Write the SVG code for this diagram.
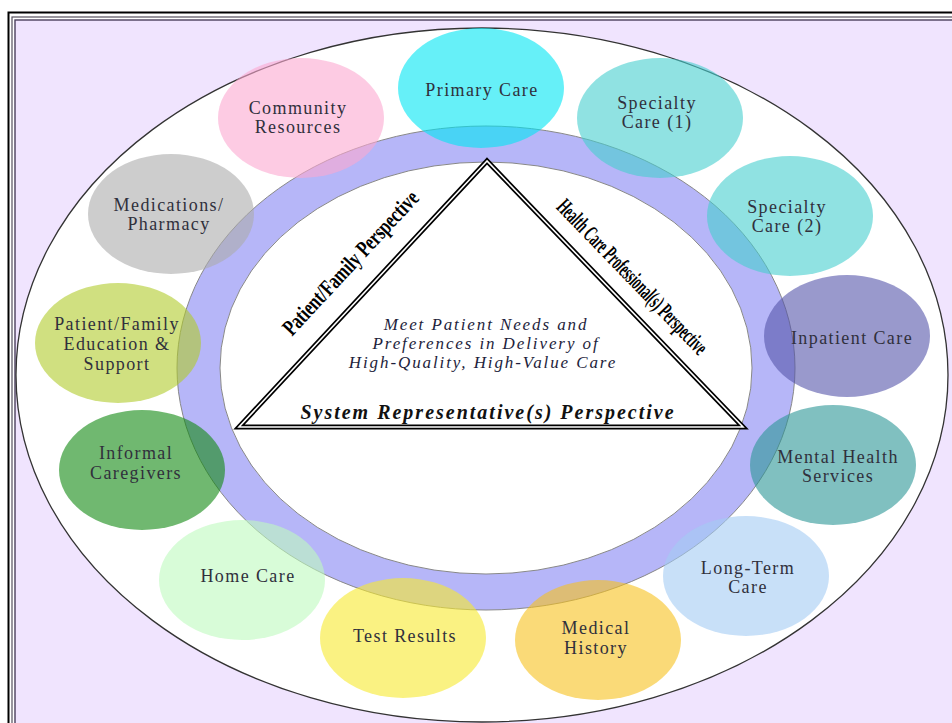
<svg xmlns="http://www.w3.org/2000/svg" width="952" height="723" viewBox="0 0 952 723">
  <style>
    .node-shape { fill-opacity: 0.6; }
    .label { font-family: "Liberation Serif", "Times New Roman", serif; font-size: 18px; letter-spacing: 1.4px; fill: #30303c; text-anchor: middle; }
    .center-text { font-family: "Liberation Serif", "Times New Roman", serif; font-style: italic; font-size: 17px; letter-spacing: 1.9px; fill: #1e1e3c; text-anchor: middle; }
    .base-text { font-family: "Liberation Serif", "Times New Roman", serif; font-style: italic; font-weight: bold; font-size: 20px; letter-spacing: 2px; fill: #111; text-anchor: middle; }
    .edge-text { font-family: "Liberation Serif", "Times New Roman", serif; font-weight: bold; font-size: 23px; fill: #000; text-anchor: middle; }
  </style>

  <!-- page frame with double border -->
  <g id="frame">
    <rect x="0" y="0" width="952" height="723" fill="#ffffff"/>
    <rect x="8.5" y="12.5" width="1000" height="800" fill="none" stroke="#000" stroke-width="2"/>
    <rect x="12" y="17" width="1000" height="800" fill="none" stroke="#55505e" stroke-width="1.2"/>
    <rect x="15" y="20" width="1000" height="800" fill="#f0e4fe" stroke="#4a3f5c" stroke-width="1.4"/>
  </g>

  <!-- outer white ellipse -->
  <g id="outer-ellipse">
    <ellipse cx="482" cy="375" rx="466" ry="347" fill="#ffffff" stroke="#333" stroke-width="1.3"/>
  </g>

  <!-- lavender ring -->
  <g id="ring">
    <ellipse cx="486" cy="368" rx="309" ry="242" fill="#b6b6f8" stroke="#888" stroke-width="1"/>
    <ellipse cx="486" cy="368" rx="266" ry="206" fill="#ffffff" stroke="#888" stroke-width="1"/>
  </g>

  <!-- central triangle with double outline -->
  <g id="triangle">
    <path d="M487,161 L239,427 L743,427 Z" fill="#ffffff" stroke="#000" stroke-width="5" stroke-linejoin="miter"/>
    <path d="M487,161 L239,427 L743,427 Z" fill="none" stroke="#ffffff" stroke-width="1.6" stroke-linejoin="miter"/>
    <text class="edge-text" textLength="188" lengthAdjust="spacingAndGlyphs" transform="translate(356,268) rotate(-47)">Patient/Family Perspective</text>
    <text class="edge-text" font-size="22" textLength="206" lengthAdjust="spacingAndGlyphs" transform="translate(627,282) rotate(46)">Health Care Professional(s) Perspective</text>
    <text class="center-text" x="486" y="330">Meet Patient Needs and</text>
    <text class="center-text" x="486" y="349">Preferences in Delivery of</text>
    <text class="center-text" x="483" y="368">High-Quality, High-Value Care</text>
    <text class="base-text" x="488" y="419">System Representative(s) Perspective</text>
  </g>

  <!-- care nodes -->
  <g id="node-primary-care">
    <ellipse class="node-shape" cx="481" cy="88" rx="83" ry="60" fill="#00e6f3"/>
    <text class="label" x="482" y="96">Primary Care</text>
  </g>
  <g id="node-specialty-care-1">
    <ellipse class="node-shape" cx="660" cy="118" rx="83" ry="60" fill="#46cfcf"/>
    <text class="label" x="657" y="109">Specialty</text>
    <text class="label" x="657" y="128">Care (1)</text>
  </g>
  <g id="node-specialty-care-2">
    <ellipse class="node-shape" cx="790" cy="216" rx="83" ry="60" fill="#46cfcf"/>
    <text class="label" x="787" y="213">Specialty</text>
    <text class="label" x="787" y="232">Care (2)</text>
  </g>
  <g id="node-inpatient-care">
    <ellipse class="node-shape" cx="847" cy="336" rx="83" ry="61" fill="#5555aa"/>
    <text class="label" x="852" y="344" fill="#2a2a50">Inpatient Care</text>
  </g>
  <g id="node-mental-health">
    <ellipse class="node-shape" cx="833" cy="465" rx="83" ry="60" fill="#2b9696"/>
    <text class="label" x="838" y="463" fill="#1e4a50">Mental Health</text>
    <text class="label" x="838" y="482" fill="#1e4a50">Services</text>
  </g>
  <g id="node-long-term-care">
    <ellipse class="node-shape" cx="746" cy="576" rx="83" ry="60" fill="#a3cbf3"/>
    <text class="label" x="748" y="574">Long-Term</text>
    <text class="label" x="748" y="593">Care</text>
  </g>
  <g id="node-medical-history">
    <ellipse class="node-shape" cx="598" cy="640" rx="83" ry="60" fill="#f7c11e"/>
    <text class="label" x="596" y="634">Medical</text>
    <text class="label" x="596" y="654">History</text>
  </g>
  <g id="node-test-results">
    <ellipse class="node-shape" cx="403" cy="638" rx="83" ry="60" fill="#f7e92f"/>
    <text class="label" x="405" y="642">Test Results</text>
  </g>
  <g id="node-home-care">
    <ellipse class="node-shape" cx="242" cy="580" rx="83" ry="60" fill="#befabe"/>
    <text class="label" x="248" y="582">Home Care</text>
  </g>
  <g id="node-informal-caregivers">
    <ellipse class="node-shape" cx="142" cy="470" rx="83" ry="60" fill="#118911"/>
    <text class="label" x="136" y="459">Informal</text>
    <text class="label" x="136" y="479">Caregivers</text>
  </g>
  <g id="node-education-support">
    <ellipse class="node-shape" cx="118" cy="343" rx="83" ry="60" fill="#b1cb2b"/>
    <text class="label" x="117" y="330">Patient/Family</text>
    <text class="label" x="117" y="350">Education &amp;</text>
    <text class="label" x="117" y="370">Support</text>
  </g>
  <g id="node-medications">
    <ellipse class="node-shape" cx="171" cy="214" rx="83" ry="60" fill="#acacac"/>
    <text class="label" x="169" y="211" fill="#55596a">Medications/</text>
    <text class="label" x="169" y="230" fill="#55596a">Pharmacy</text>
  </g>
  <g id="node-community-resources">
    <ellipse class="node-shape" cx="301" cy="118" rx="83" ry="60" fill="#fca8d0"/>
    <text class="label" x="298" y="114">Community</text>
    <text class="label" x="298" y="133">Resources</text>
  </g>
</svg>
